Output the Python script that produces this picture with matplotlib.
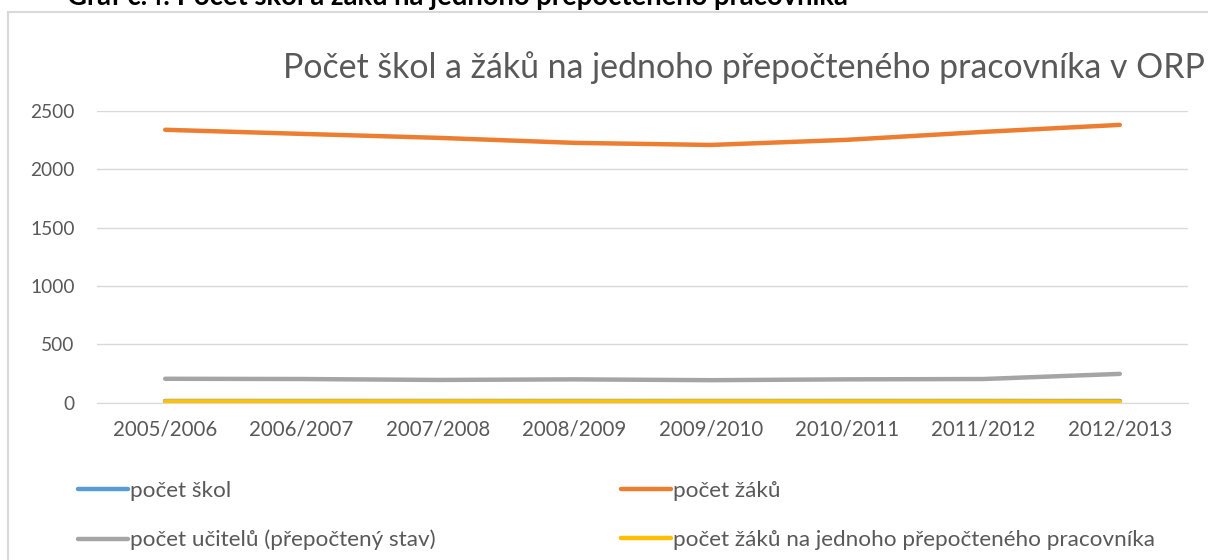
import matplotlib
matplotlib.use("Agg")
import matplotlib.pyplot as plt
from matplotlib.patches import Rectangle

years = ["2005/2006", "2006/2007", "2007/2008", "2008/2009",
         "2009/2010", "2010/2011", "2011/2012", "2012/2013"]
skoly = [14, 14, 14, 14, 14, 14, 14, 14]
zaci = [2339, 2304, 2270, 2227, 2209, 2253, 2321, 2381]
ucitele = [205, 203, 195, 200, 193, 200, 203, 247]
zaci_na_prac = [11.5, 11.4, 11.6, 11.2, 11.5, 11.3, 11.4, 9.5]
series_names = ["počet škol", "počet žáků", "počet učitelů (přepočtený stav)",
                "počet žáků na jednoho přepočteného pracovníka"]
yticks = [0, 500, 1000, 1500, 2000, 2500]

title = "Počet škol a žáků na jednoho přepočteného pracovníka v ORP"
caption = "Graf č.4: Počet škol a žáků na jednoho přepočteného pracovníka"

FONT = "Lato"
plt.rcParams['font.family'] = [FONT, 'DejaVu Sans']
TXT = "#595959"

W, H = 1208, 560
fig = plt.figure(figsize=(W / 100, H / 100), dpi=100)

# chart frame
fig.patches.append(Rectangle((8 / W, -0.1), 1.2, 1 - 12 / H + 0.1,
                             transform=fig.transFigure, fill=False,
                             edgecolor="#D9D9D9", lw=1.5))

ax = fig.add_axes([97 / W, 1 - 402.7 / H, (1188 - 97) / W, (402.7 - 111) / H])
colors = ["#5B9BD5", "#ED7D31", "#A5A5A5", "#FFC000"]
data = [skoly, zaci, ucitele, zaci_na_prac]
x = range(len(years))
lines = []
for d, c, n in zip(data, colors, series_names):
    ln, = ax.plot(x, d, color=c, lw=3.2, solid_capstyle="round", label=n)
    lines.append(ln)

ax.set_xlim(-0.5, len(years) - 0.5)
ax.set_ylim(0, 2500)
ax.set_yticks(yticks)
ax.set_xticks(list(x))
ax.set_xticklabels(years)
ax.grid(axis="y", color="#D9D9D9", lw=1)
ax.set_axisbelow(True)
for s in ["top", "right", "left"]:
    ax.spines[s].set_visible(False)
ax.spines["bottom"].set_color("#D9D9D9")
ax.tick_params(length=0, labelcolor=TXT)
ax.tick_params(axis="x", pad=12, labelsize=14.8)
ax.tick_params(axis="y", pad=16, labelsize=13.8)

fig.text(283 / W, 1 - 78 / H, title, fontsize=24.4, color=TXT, ha="left",
         va="baseline")
fig.text(67 / W, 1 - 5 / H, caption, fontsize=19.8, fontweight="bold",
         color="black", ha="left", va="baseline")

# legend, row-wise order: škol, žáků / učitelů, na pracovníka
handles = [lines[0], lines[2], lines[1], lines[3]]
leg = fig.legend(handles=handles, loc="upper left",
                 bbox_to_anchor=(78 / W, 1 - 481 / H), ncol=2, frameon=False,
                 fontsize=16.2, labelcolor=TXT, handlelength=2.2,
                 handletextpad=0.1, columnspacing=8.25, labelspacing=1.28,
                 borderpad=0, borderaxespad=0)

fig.savefig("out.png", dpi=100)
